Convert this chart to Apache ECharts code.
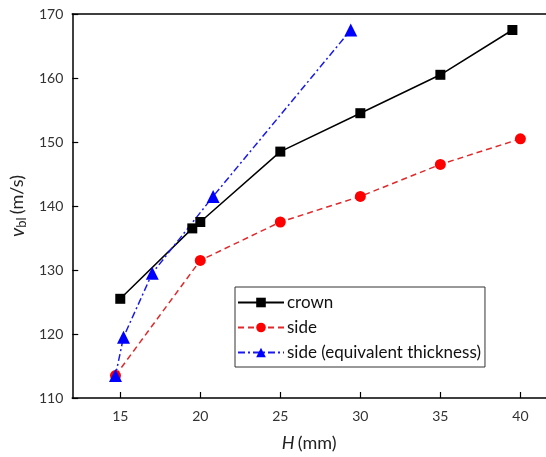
<!DOCTYPE html>
<html>
<head>
<meta charset="utf-8">
<script src="https://cdn.jsdelivr.net/npm/echarts@6/dist/echarts.min.js"></script>
<style>
  html, body { margin: 0; padding: 0; background: #fff; }
  #chart { width: 546px; height: 457px; }
</style>
</head>
<body>
<div id="chart"></div>
<script>
// Blast velocity v_bl versus thickness H
const crownH = [15, 19.5, 20, 25, 30, 35, 39.5];
const crownV = [125.5, 136.5, 137.5, 148.5, 154.5, 160.5, 167.5];

const sideH = [14.7, 20, 25, 30, 35, 40];
const sideV = [113.5, 131.5, 137.5, 141.5, 146.5, 150.5];

const eqH = [14.7, 15.2, 17, 20.8, 29.4];
const eqV = [113.5, 119.5, 129.5, 141.5, 167.5];

const xTicks = [15, 20, 25, 30, 35, 40];

const pairs = (xs, ys) => xs.map((x, i) => [x, ys[i]]);

const FONT = 'Lato, "Open Sans", sans-serif';
const chart = echarts.init(document.getElementById('chart'), null, { renderer: 'canvas' });

chart.setOption({
  animation: false,
  backgroundColor: '#fff',
  grid: { left: 72, top: 14, right: 0, bottom: 59, containLabel: false },
  xAxis: [{
    type: 'value', min: 12, max: 41.6,
    name: '{i|H} {n|(mm)}',
    nameLocation: 'middle', nameGap: 36,
    nameTextStyle: {
      rich: {
        i: { fontStyle: 'italic', fontSize: 18, fontFamily: FONT, color: '#222' },
        n: { fontSize: 18, fontFamily: FONT, color: '#222' }
      }
    },
    axisLine: { show: true, lineStyle: { color: '#000', width: 1.5 } },
    axisTick: { show: true, inside: true, length: 6, customValues: xTicks, lineStyle: { color: '#000', width: 1.2 } },
    axisLabel: { customValues: xTicks, margin: 11, fontSize: 14, fontFamily: FONT, color: '#333' },
    splitLine: { show: false }
  }, {
    type: 'value', min: 12, max: 41.6, position: 'top',
    axisLine: { show: true, onZero: false, lineStyle: { color: '#000', width: 1.5 } },
    axisTick: { show: false }, axisLabel: { show: false }, splitLine: { show: false }
  }],
  yAxis: {
    type: 'value', min: 110, max: 170, interval: 10,
    name: '{i|v}{s|bl} {n|(m/s)}',
    nameLocation: 'middle', nameGap: 42,
    nameTextStyle: {
      rich: {
        i: { fontStyle: 'italic', fontSize: 19, fontFamily: FONT, color: '#222' },
        s: { fontSize: 13, fontFamily: FONT, color: '#222', verticalAlign: 'bottom', padding: [8, 0, 0, 0] },
        n: { fontSize: 18, fontFamily: FONT, color: '#222' }
      }
    },
    axisLine: { show: true, lineStyle: { color: '#000', width: 1.5 } },
    axisTick: { show: true, inside: true, length: 6, lineStyle: { color: '#000', width: 1.2 } },
    axisLabel: { margin: 9, fontSize: 14, fontFamily: FONT, color: '#333' },
    splitLine: { show: false }
  },
  legend: {
    orient: 'vertical',
    left: 235, top: 287,
    width: 253,
    backgroundColor: '#fff',
    borderColor: '#333', borderWidth: 1, borderRadius: 0,
    padding: [7, 4, 6, 2],
    itemGap: 8,
    itemWidth: 46, itemHeight: 12,
    textStyle: { fontSize: 17, fontFamily: FONT, color: '#111', padding: [0, 0, 0, -2] },
    data: ['crown', 'side', 'side (equivalent thickness)']
  },
  series: [{
    name: 'crown', type: 'line',
    data: pairs(crownH, crownV),
    symbol: 'rect', symbolSize: 10,
    itemStyle: { color: '#000' },
    lineStyle: { color: '#000', width: 1.5, type: 'solid' }
  }, {
    name: 'side', type: 'line',
    data: pairs(sideH, sideV),
    symbol: 'circle', symbolSize: 11,
    itemStyle: { color: '#ff0000' },
    lineStyle: { color: '#e0292b', width: 1.5, type: [6, 4] }
  }, {
    name: 'side (equivalent thickness)', type: 'line',
    data: pairs(eqH, eqV),
    symbol: 'triangle', symbolSize: 13,
    itemStyle: { color: '#0000ff' },
    lineStyle: { color: '#1a1aee', width: 1.5, type: [7, 3, 2, 3] }
  }]
});
</script>
</body>
</html>
